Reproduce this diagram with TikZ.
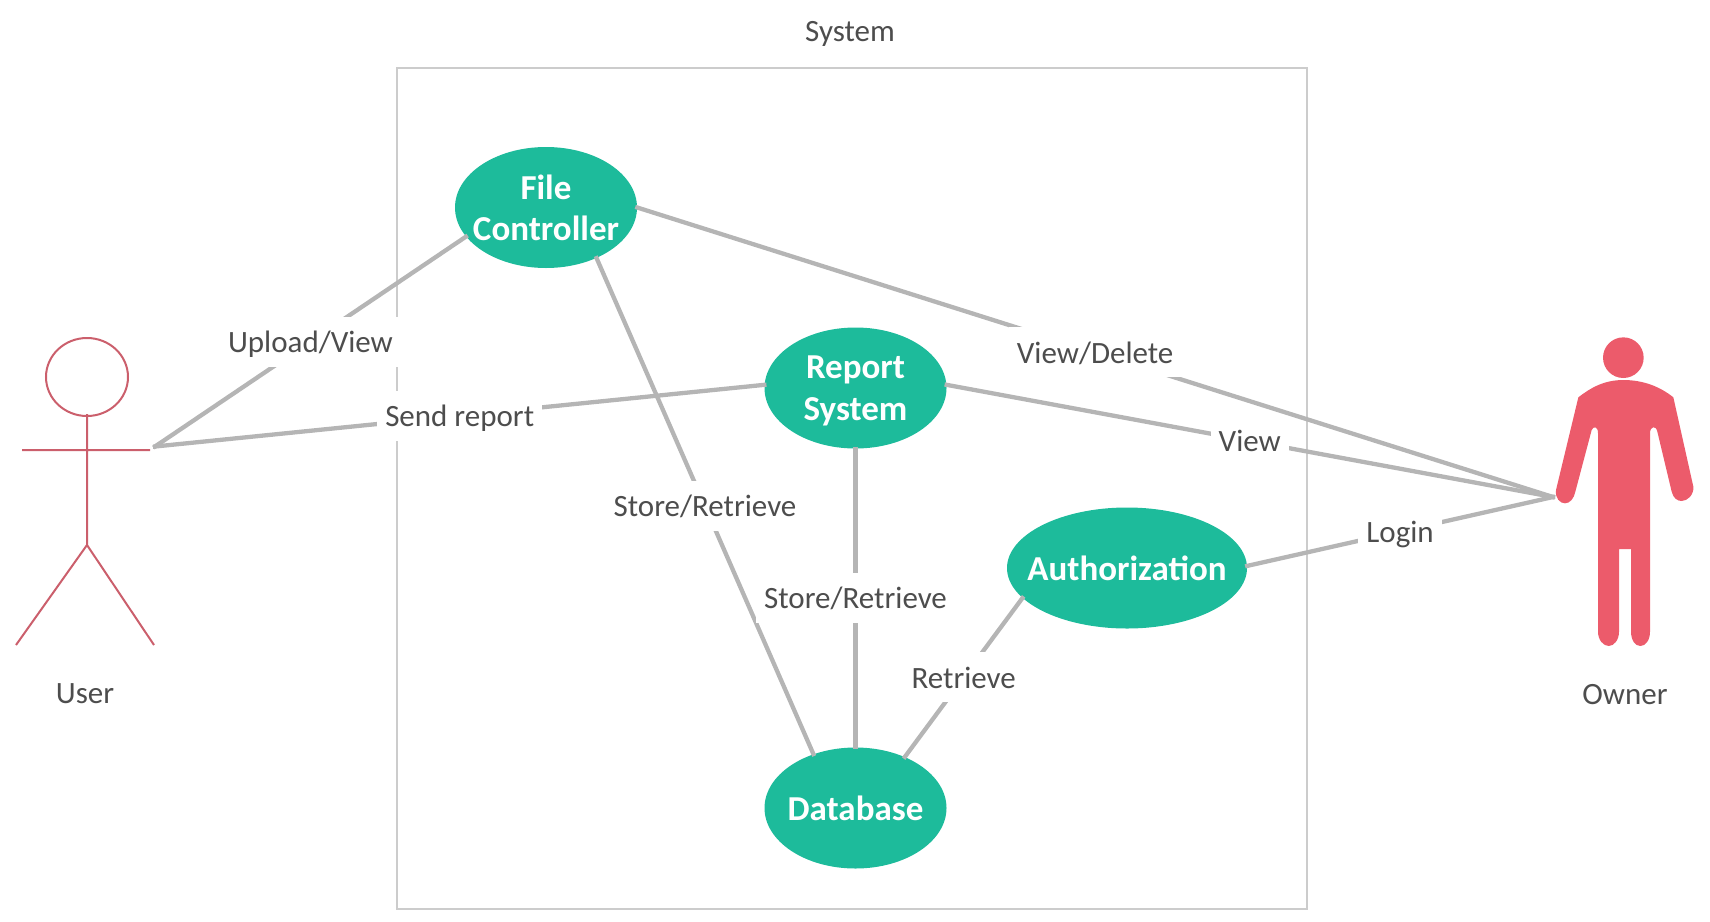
\documentclass[tikz,border=0pt]{standalone}
\usepackage{fontspec}
\setmainfont{Carlito}
\usetikzlibrary{shapes.geometric}
\definecolor{usecasegreen}{HTML}{1DBB9B}
\definecolor{ownerred}{HTML}{EC5B6B}
\definecolor{userred}{HTML}{CB5F6C}
\definecolor{linegray}{HTML}{B5B5B5}
\definecolor{boxgray}{HTML}{CCCCCC}
\definecolor{textgray}{HTML}{4D4D4D}
\tikzset{
	usecase/.style={ellipse,fill=usecasegreen,text=white,inner xsep=-25pt,inner ysep=0pt,text depth=0pt,minimum width=182pt,minimum height=121pt,align=center,font=\fontsize{35}{41.5}\selectfont\bfseries},
	caption/.style={text=textgray,text depth=0pt,font=\fontsize{31}{31}\selectfont},
	assoc/.style={draw=linegray,line width=4.3pt,shorten <=-2pt,shorten >=-2pt},
	assoclabel/.style={caption,fill=white,inner xsep=8pt,inner ysep=0pt,minimum height=50pt}
}
\begin{document}
\begin{tikzpicture}[x=1pt,y=-1pt]
		    \useasboundingbox(0,0) rectangle (1710,921);
		%System
		    \draw[boxgray,line width=2pt](397,68) rectangle (1306.5,908.5);
		    \node[caption] (systemlabel) at (850,31) {System};
		%Use cases
		    \node[usecase] (filectrl) at (546,207.5) {File\\Controller};
		    \node[usecase] (report) at (855.5,388) {Report\\System};
		    \node[usecase,minimum width=240pt] (auth) at (1127,568) {Authorization};
		    \node[usecase] (database) at (855.5,808) {Database};
		%User
		    \draw[userred,line width=2pt](87,377) ellipse (41 and 39);
		    \draw[userred,line width=2pt](87,414)--(87,545) (22,450)--(150,450) (16,645)--(87,545)--(154,645);
		    \node[caption] (userlabel) at (85,694) {User};
		    \coordinate (userhand) at (155,446.5);
		%Owner
		    \begin{scope}[shift={(1500,320)},x=1pt/3,y=-1pt/3]
		    	\fill[ownerred](370,113) circle (61);
		    	\fill[ownerred](370,180) .. controls (310,180) and (270,205) .. (235,232)
		    		-- (168,510) .. controls (165,535) and (180,550) .. (195,550)
		    		.. controls (210,550) and (222,535) .. (226,515) -- (275,330)
		    		.. controls (280,318) and (294,318) .. (294,340) -- (294,935)
		    		.. controls (294,960) and (310,978) .. (326,978)
		    		.. controls (342,978) and (357,960) .. (357,935) -- (357,687) -- (393,687) -- (393,935)
		    		.. controls (393,960) and (405,978) .. (421,978)
		    		.. controls (437,978) and (450,960) .. (450,935) -- (450,340)
		    		.. controls (450,318) and (468,315) .. (472,335) -- (515,515)
		    		.. controls (520,535) and (532,543) .. (545,543)
		    		.. controls (562,543) and (582,525) .. (580,500) -- (520,232)
		    		.. controls (480,200) and (430,180) .. (370,180) -- cycle;
		    \end{scope}
		    \node[caption] (ownerlabel) at (1625,694) {Owner};
		    \coordinate (ownerhand) at (1553,497);
		%Verbindungen
		    \foreach \from/\to/\xtext in {
		    	userhand/filectrl.200/{Upload/View},
		    	userhand/report.178/Send report,
		    	filectrl.315/database.128/{Store/Retrieve},
		    	report.270/database.90/{Store/Retrieve},
		    	filectrl.0/ownerhand/{View/Delete},
		    	report.2/ownerhand/View,
		    	auth.1/ownerhand/Login,
		    	database.46/auth.196/Retrieve}
		    	\draw[assoc](\from)--(\to) node[midway,assoclabel] {\xtext};
	\end{tikzpicture}
\end{document}
